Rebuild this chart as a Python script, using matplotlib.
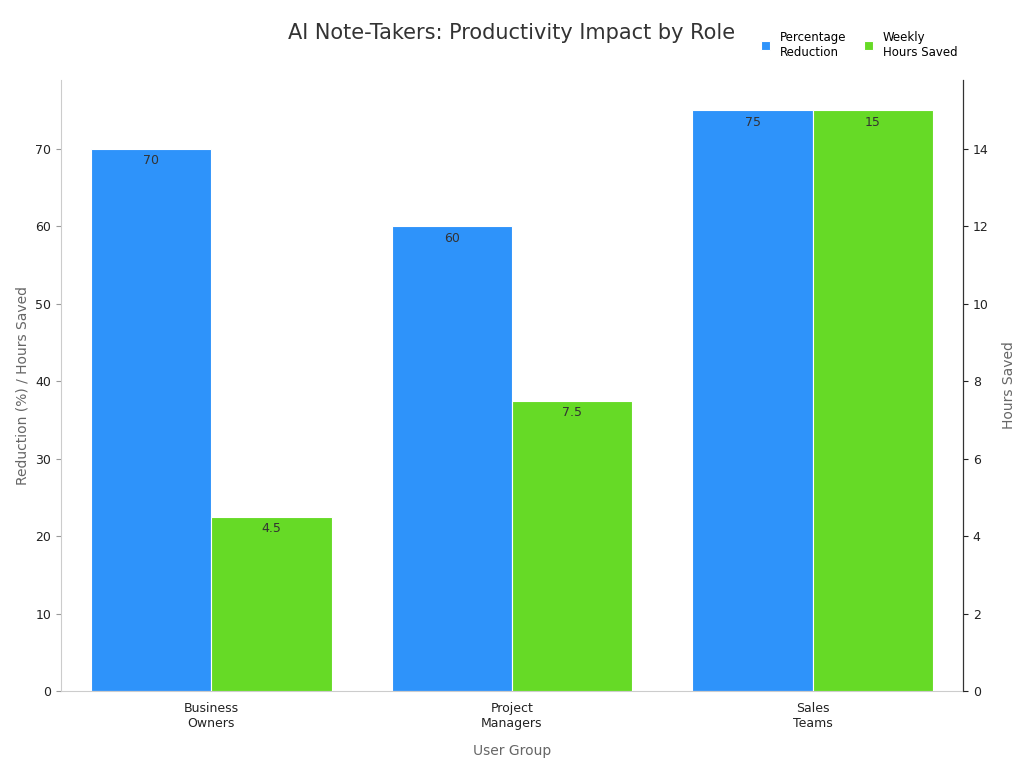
import matplotlib
matplotlib.use("Agg")
import matplotlib.pyplot as plt
import numpy as np

categories = ["Business\nOwners", "Project\nManagers", "Sales\nTeams"]
pct_reduction = [70, 60, 75]
hours_saved = [4.5, 7.5, 15]

blue = "#2E93FA"
green = "#66DA26"

fig = plt.figure(figsize=(10.24, 7.68), dpi=100)
ax = fig.add_axes([61/1024, 1-691/768, 902/1024, 611/768])
ax2 = ax.twinx()
x = np.arange(len(categories))
w = 0.4
b1 = ax.bar(x - w/2, pct_reduction, w, color=blue, edgecolor="white", linewidth=0.8, label="Percentage\nReduction")
b2 = ax2.bar(x + w/2, hours_saved, w, color=green, edgecolor="white", linewidth=0.8, label="Weekly\nHours Saved")
ax.set_xlim(-0.5, 2.5)
ax.set_ylim(0, 78.9)
ax2.set_ylim(0, 15.78)
ax.set_yticks(range(0, 80, 10))
ax2.set_yticks(range(0, 16, 2))
for bars, vals, a in ((b1, pct_reduction, ax), (b2, hours_saved, ax2)):
    for r, v in zip(bars, vals):
        a.annotate(f"{v:g}", (r.get_x() + r.get_width()/2, r.get_height()),
                   xytext=(0, -4), textcoords="offset points", ha="center", va="top",
                   fontsize=9, color="#333333")
ax.set_xticks(x)
ax.set_xticklabels(categories, fontsize=9, color="#222222")
ax.tick_params(axis="y", labelsize=9, colors="#222222")
ax2.tick_params(axis="y", labelsize=9, colors="#222222")
for a in (ax, ax2):
    a.spines["top"].set_visible(False)
ax.spines["left"].set_color("#cccccc")
ax.spines["bottom"].set_color("#cccccc")
ax2.spines["left"].set_visible(False)
ax2.spines["bottom"].set_visible(False)
ax2.spines["right"].set_color("#333333")
ax.tick_params(axis="x", length=0, pad=8)
ax.tick_params(axis="y", color="#999999")
ax.set_xlabel("User Group", fontsize=10, color="#666666", labelpad=10)
ax.set_ylabel("Reduction (%) / Hours Saved", fontsize=10, color="#666666")
ax2.set_ylabel("Hours Saved", fontsize=10, color="#666666", labelpad=10)
fig.text(512/1024, 1-33/768, "AI Note-Takers: Productivity Impact by Role", ha="center", va="center", fontsize=15, color="#333333")
fig.legend(handles=[b1, b2], loc="center right", bbox_to_anchor=(968/1024, 1-45/768), ncol=2,
           frameon=False, fontsize=8.5, handlelength=0.8, handleheight=0.8, columnspacing=1.5)
fig.savefig("out.png", dpi=100)
